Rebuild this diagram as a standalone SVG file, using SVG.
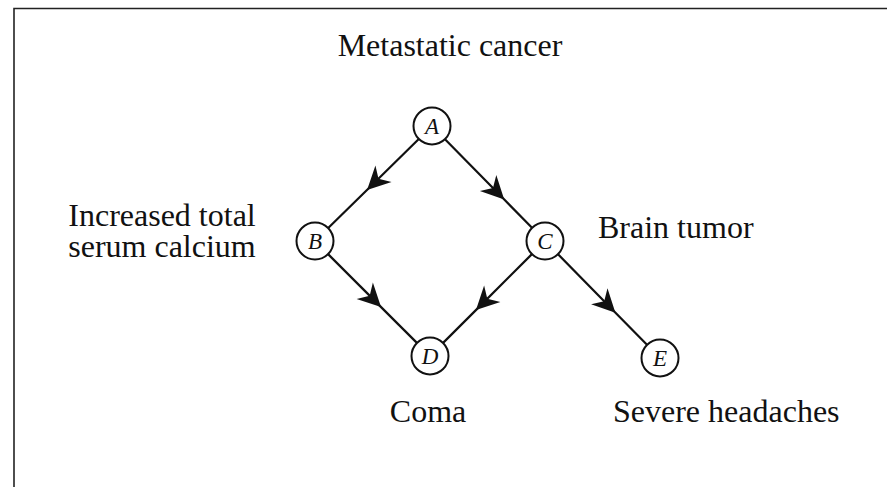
<svg xmlns="http://www.w3.org/2000/svg" width="887" height="487" viewBox="0 0 887 487">
<style>
.lbl{font-family:"Liberation Serif","Times New Roman",serif;font-size:32px;fill:#111}
.nd circle{fill:#fff;stroke:#111;stroke-width:2}
.nd text.id{font-family:"Liberation Serif","Times New Roman",serif;font-style:italic;font-size:23px;fill:#111;text-anchor:middle}
.mid{text-anchor:middle}
.edge{fill:none;stroke:#111;stroke-width:2.2;marker-mid:url(#ah)}
.frame{stroke:#222;stroke-width:1.6;fill:none}
</style>
<defs>
<marker id="ah" markerUnits="userSpaceOnUse" markerWidth="32" markerHeight="32" viewBox="-28 -16 32 32" refX="0" refY="0" orient="auto" overflow="visible">
<path d="M2,0 L-21,-11.5 L-14,0 L-21,11.5 Z" fill="#111"/>
</marker>
</defs>
<rect width="887" height="487" fill="#fff"/>
<path class="frame" d="M14,487 L14,8.5 L887,8.5"/>
<g id="connectors">
<polyline class="edge" points="418.8,139.0 368.5,188.5 328.2,228.0"/>
<polyline class="edge" points="445.0,139.2 502.8,198.0 532.0,227.8"/>
<polyline class="edge" points="328.1,254.1 379.6,305.6 416.9,342.9"/>
<polyline class="edge" points="531.9,254.1 477.4,308.6 443.1,342.9"/>
<polyline class="edge" points="558.0,254.2 614.0,311.2 647.0,344.8"/>
</g>
<g id="node-A" class="nd"><circle cx="432" cy="126" r="18.5"/><text class="id" x="432" y="134">A</text><text class="lbl mid" x="450" y="56">Metastatic cancer</text></g>
<g id="node-B" class="nd"><circle cx="315" cy="241" r="18.5"/><text class="id" x="315" y="249">B</text><text class="lbl mid" x="162" y="226">Increased total<tspan x="162" dy="31">serum calcium</tspan></text></g>
<g id="node-C" class="nd"><circle cx="545" cy="241" r="18.5"/><text class="id" x="545" y="249">C</text><text class="lbl" x="598" y="238">Brain tumor</text></g>
<g id="node-D" class="nd"><circle cx="430" cy="356" r="18.5"/><text class="id" x="430" y="364">D</text><text class="lbl mid" x="428" y="422">Coma</text></g>
<g id="node-E" class="nd"><circle cx="660" cy="358" r="18.5"/><text class="id" x="660" y="366">E</text><text class="lbl" x="613" y="422">Severe headaches</text></g>
</svg>
